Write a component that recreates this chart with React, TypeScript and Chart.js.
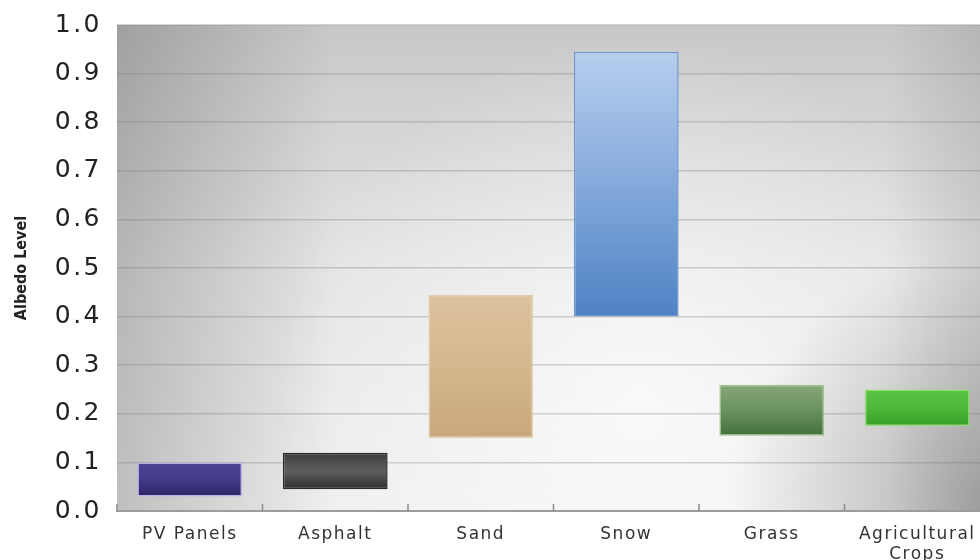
import React, { useEffect, useRef } from "react";
import { Chart, registerables } from "chart.js";

Chart.register(...registerables);

const categories: (string | string[])[] = ["PV Panels", "Asphalt", "Sand", "Snow", "Grass", ["Agricultural", "Crops"]];
const albedoLow = [0.03, 0.045, 0.15, 0.4, 0.155, 0.175];
const albedoHigh = [0.1, 0.12, 0.445, 0.945, 0.26, 0.25];
const yTickMin = 0;
const yTickMax = 1;
const yTickStep = 0.1;

// gradient stops per bar (top -> bottom)
const barTopColors = ["#4e4596", "#3c3c3c", "#dbc19d", "#b7cfef", "#86a877", "#5cc445"];
const barMidColors = ["#433a8a", "#5e5e5e", "#d5b78e", "#84a9db", "#6a9160", "#4db83a"];
const barBottomColors = ["#2d2566", "#2e2e2e", "#c9a77c", "#4f82c4", "#44703a", "#37a028"];
const barBorderColors = ["#b9b1e6", "#2a2a2a", "#e3cdb0", "#6d97cf", "#9fc08f", "#8ede70"];

const backgroundPlugin = {
  id: "plotBackground",
  beforeDraw(chart: any) {
    const { ctx, chartArea } = chart;
    if (!chartArea) return;
    const { left, top, right, bottom } = chartArea;
    const w = right - left;
    const h = bottom - top;
    ctx.save();
    const v = ctx.createLinearGradient(0, top, 0, bottom);
    v.addColorStop(0, "#c8c8c8");
    v.addColorStop(0.5, "#e4e4e4");
    v.addColorStop(1, "#efefef");
    ctx.fillStyle = v;
    ctx.fillRect(left, top, w, h);
    const r = ctx.createRadialGradient(left + w * 0.6, top + h * 0.78, 10, left + w * 0.6, top + h * 0.78, w * 0.42);
    r.addColorStop(0, "rgba(255,255,255,0.7)");
    r.addColorStop(1, "rgba(255,255,255,0)");
    ctx.fillStyle = r;
    ctx.fillRect(left, top, w, h);
    const l = ctx.createLinearGradient(left, 0, right, 0);
    l.addColorStop(0, "rgba(0,0,0,0.2)");
    l.addColorStop(0.25, "rgba(0,0,0,0)");
    l.addColorStop(0.88, "rgba(0,0,0,0)");
    l.addColorStop(1, "rgba(0,0,0,0.1)");
    ctx.fillStyle = l;
    ctx.fillRect(left, top, w, h);
    const br = ctx.createRadialGradient(right, bottom, 5, right, bottom, w * 0.3);
    br.addColorStop(0, "rgba(0,0,0,0.28)");
    br.addColorStop(1, "rgba(0,0,0,0)");
    ctx.fillStyle = br;
    ctx.fillRect(left, top, w, h);
    ctx.restore();

    // letter spacing on tick labels
    const spacing: [string, string][] = [["x", "1.5px"], ["y", "2.5px"]];
    for (const [id, sp] of spacing) {
      const s = chart.scales[id];
      if (s && !s.__spaced) {
        const orig = s.drawLabels.bind(s);
        s.drawLabels = (area: any) => {
          const c = s.ctx;
          const prev = c.letterSpacing;
          c.letterSpacing = sp;
          orig(area);
          c.letterSpacing = prev || "0px";
        };
        s.__spaced = true;
      }
    }
  },
  beforeDatasetsDraw(chart: any) {
    const { ctx, chartArea, scales } = chart;
    const xs = scales.x;
    ctx.save();
    ctx.strokeStyle = "#8a8a8a";
    ctx.lineWidth = 1.5;
    for (let i = 0; i <= categories.length; i++) {
      const x = xs.getPixelForValue(i - 0.5);
      ctx.beginPath();
      ctx.moveTo(x, chartArea.bottom - 7);
      ctx.lineTo(x, chartArea.bottom);
      ctx.stroke();
    }
    ctx.restore();
  },
};

export default function App() {
  const ref = useRef<HTMLCanvasElement | null>(null);
  useEffect(() => {
    if (!ref.current) return;
    const chart = new Chart(ref.current, {
      type: "bar",
      data: {
        labels: categories as any,
        datasets: [
          {
            label: "Albedo",
            data: albedoLow.map((lo, i) => [lo, albedoHigh[i]]) as any,
            backgroundColor: (c: any) => {
              const chart = c.chart;
              const i = c.dataIndex;
              if (!chart.chartArea || !chart.scales.y || !c.raw) return barMidColors[i];
              const ys = chart.scales.y;
              const t = ys.getPixelForValue(c.raw[1]);
              const b = ys.getPixelForValue(c.raw[0]);
              const g = chart.ctx.createLinearGradient(0, t, 0, b);
              g.addColorStop(0, barTopColors[i]);
              g.addColorStop(0.5, barMidColors[i]);
              g.addColorStop(1, barBottomColors[i]);
              return g;
            },
            borderColor: barBorderColors,
            borderWidth: 1.5,
            borderSkipped: false,
            categoryPercentage: 1,
            barPercentage: 0.72,
          },
        ],
      },
      options: {
        animation: false,
        responsive: false,
        devicePixelRatio: 1,
        layout: { padding: { top: 0, right: 0, bottom: 0, left: 0 } },
        plugins: { legend: { display: false }, tooltip: { enabled: false } },
        scales: {
          x: {
            grid: { display: false },
            border: { display: true, color: "#9c9c9c", width: 2 },
            ticks: {
              color: "#333",
              padding: 5,
              font: { family: "'DejaVu Sans', sans-serif", size: 17 },
              maxRotation: 0,
              autoSkip: false,
            },
            afterFit: (s: any) => {
              s.height = 49;
            },
          },
          y: {
            min: yTickMin,
            max: yTickMax,
            grid: { color: "rgba(115,115,115,0.3)", lineWidth: 1.5, drawTicks: false },
            border: { display: false },
            ticks: {
              stepSize: yTickStep,
              color: "#222",
              padding: 15,
              font: { family: "'DejaVu Sans', sans-serif", size: 25 },
              callback: (v: any) => Number(v).toFixed(1),
            },
            title: {
              display: true,
              text: "Albedo Level",
              color: "#222",
              font: { family: "'DejaVu Sans Condensed', 'DejaVu Sans', sans-serif", size: 16, weight: "bold" },
              padding: { top: 12, bottom: 0 },
            },
            afterFit: (s: any) => {
              s.width = 117;
              s.paddingTop = 25;
            },
          },
        },
      },
      plugins: [backgroundPlugin],
    });
    return () => chart.destroy();
  }, []);
  return (
    <div style={{ position: "absolute", left: 0, top: 0, width: 980, height: 560, background: "#fff", overflow: "hidden" }}>
      <canvas ref={ref} width={990} height={560} style={{ display: "block" }} />
    </div>
  );
}
